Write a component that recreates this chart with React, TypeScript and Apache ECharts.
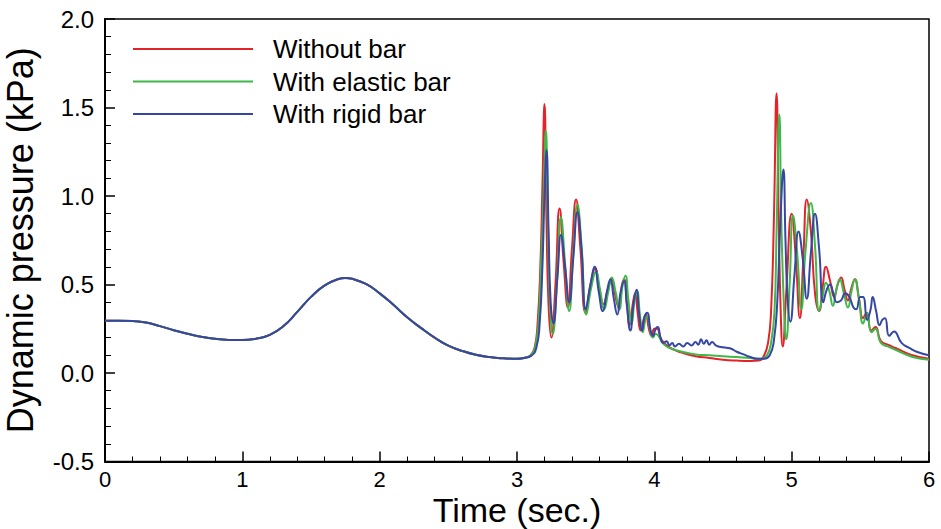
import React, { useEffect, useRef } from "react";
import * as echarts from "echarts";

// Shared initial response (all three cases coincide before the first surge)
const baseTime = [0, 0.1, 0.2, 0.3, 0.4, 0.5, 0.6, 0.7, 0.8, 0.9, 1.0, 1.1, 1.2, 1.3, 1.4, 1.5, 1.6, 1.7, 1.75, 1.8, 1.9, 2.0, 2.1, 2.2, 2.3, 2.4, 2.5, 2.6, 2.7, 2.8, 2.9, 3.0];
const basePressure = [0.295, 0.295, 0.294, 0.285, 0.265, 0.242, 0.222, 0.205, 0.193, 0.187, 0.186, 0.194, 0.215, 0.265, 0.345, 0.43, 0.495, 0.531, 0.537, 0.532, 0.503, 0.45, 0.385, 0.315, 0.255, 0.2, 0.155, 0.125, 0.103, 0.09, 0.083, 0.08];

// Without bar
const redTime = [3.05, 3.1, 3.13, 3.15, 3.17, 3.185, 3.2, 3.215, 3.23, 3.25, 3.28, 3.31, 3.34, 3.37, 3.4, 3.43, 3.46, 3.5, 3.535, 3.57, 3.6, 3.63, 3.66, 3.69, 3.715, 3.74, 3.765, 3.78, 3.8, 3.82, 3.845, 3.86, 3.88, 3.9, 3.925, 3.94, 3.96, 3.98, 4.0, 4.02, 4.05, 4.1, 4.15, 4.2, 4.3, 4.4, 4.5, 4.6, 4.7, 4.76, 4.8, 4.83, 4.85, 4.87, 4.89, 4.905, 4.92, 4.935, 4.96, 5.0, 5.03, 5.06, 5.085, 5.11, 5.14, 5.17, 5.2, 5.225, 5.25, 5.28, 5.31, 5.335, 5.36, 5.385, 5.41, 5.435, 5.46, 5.49, 5.52, 5.545, 5.58, 5.61, 5.65, 5.7, 5.76, 5.88, 6.0];
const redPressure = [0.085, 0.1, 0.15, 0.28, 0.6, 1.05, 1.52, 0.85, 0.38, 0.2, 0.5, 0.93, 0.62, 0.37, 0.7, 0.98, 0.72, 0.34, 0.5, 0.59, 0.47, 0.39, 0.47, 0.53, 0.44, 0.37, 0.5, 0.53, 0.4, 0.27, 0.4, 0.45, 0.33, 0.24, 0.31, 0.33, 0.25, 0.21, 0.25, 0.25, 0.19, 0.15, 0.13, 0.115, 0.095, 0.085, 0.075, 0.07, 0.068, 0.07, 0.1, 0.18, 0.35, 0.85, 1.58, 0.9, 0.35, 0.15, 0.45, 0.9, 0.65, 0.31, 0.65, 0.98, 0.8, 0.45, 0.35, 0.48, 0.6, 0.52, 0.43, 0.5, 0.54, 0.47, 0.41, 0.48, 0.53, 0.42, 0.31, 0.34, 0.24, 0.26, 0.18, 0.16, 0.14, 0.1, 0.08];

// With elastic bar
const greenTime = [3.05, 3.1, 3.13, 3.155, 3.175, 3.195, 3.21, 3.225, 3.24, 3.26, 3.29, 3.32, 3.35, 3.38, 3.41, 3.44, 3.47, 3.505, 3.54, 3.575, 3.605, 3.635, 3.665, 3.69, 3.72, 3.745, 3.77, 3.79, 3.81, 3.835, 3.855, 3.875, 3.895, 3.915, 3.935, 3.95, 3.97, 3.99, 4.01, 4.03, 4.06, 4.1, 4.2, 4.3, 4.4, 4.5, 4.6, 4.7, 4.78, 4.82, 4.85, 4.875, 4.89, 4.91, 4.925, 4.945, 4.96, 4.985, 5.01, 5.04, 5.07, 5.1, 5.14, 5.17, 5.2, 5.225, 5.25, 5.275, 5.3, 5.325, 5.35, 5.38, 5.41, 5.435, 5.46, 5.49, 5.52, 5.55, 5.58, 5.61, 5.65, 5.7, 5.76, 5.88, 6.0];
const greenPressure = [0.085, 0.1, 0.14, 0.27, 0.6, 1.05, 1.37, 0.85, 0.4, 0.22, 0.5, 0.88, 0.62, 0.35, 0.68, 0.95, 0.72, 0.33, 0.48, 0.57, 0.47, 0.36, 0.46, 0.54, 0.45, 0.36, 0.5, 0.55, 0.42, 0.28, 0.4, 0.46, 0.33, 0.23, 0.3, 0.32, 0.24, 0.2, 0.22, 0.21, 0.17, 0.145, 0.12, 0.105, 0.1, 0.095, 0.09, 0.085, 0.08, 0.1, 0.17, 0.35, 0.8, 1.46, 0.85, 0.35, 0.19, 0.5, 0.89, 0.68, 0.36, 0.68, 0.96, 0.72, 0.35, 0.43, 0.51, 0.46, 0.38, 0.47, 0.53, 0.45, 0.37, 0.46, 0.53, 0.42, 0.28, 0.34, 0.23, 0.25, 0.17, 0.15, 0.13, 0.09, 0.075];

// With rigid bar
const blueTime = [3.05, 3.1, 3.14, 3.165, 3.185, 3.2, 3.215, 3.23, 3.245, 3.265, 3.295, 3.32, 3.35, 3.38, 3.41, 3.44, 3.47, 3.5, 3.535, 3.565, 3.595, 3.625, 3.655, 3.68, 3.705, 3.73, 3.755, 3.78, 3.8, 3.825, 3.85, 3.87, 3.89, 3.91, 3.93, 3.95, 3.97, 3.99, 4.01, 4.025, 4.045, 4.065, 4.09, 4.11, 4.13, 4.15, 4.18, 4.21, 4.24, 4.27, 4.3, 4.32, 4.34, 4.36, 4.38, 4.4, 4.42, 4.45, 4.5, 4.55, 4.6, 4.65, 4.7, 4.75, 4.8, 4.84, 4.87, 4.895, 4.915, 4.94, 4.955, 4.97, 4.99, 5.02, 5.05, 5.08, 5.11, 5.14, 5.17, 5.2, 5.23, 5.255, 5.28, 5.3, 5.33, 5.36, 5.39, 5.42, 5.45, 5.47, 5.5, 5.52, 5.55, 5.575, 5.59, 5.615, 5.64, 5.66, 5.68, 5.71, 5.745, 5.8, 5.86, 5.91, 6.0];
const bluePressure = [0.085, 0.095, 0.14, 0.28, 0.6, 1.0, 1.26, 0.8, 0.4, 0.28, 0.55, 0.78, 0.6, 0.4, 0.65, 0.91, 0.7, 0.36, 0.5, 0.6, 0.46, 0.35, 0.46, 0.53, 0.42, 0.33, 0.46, 0.52, 0.38, 0.24, 0.4, 0.47, 0.33, 0.24, 0.32, 0.34, 0.25, 0.21, 0.25, 0.26, 0.2, 0.17, 0.18, 0.155, 0.17, 0.15, 0.165, 0.15, 0.17, 0.155, 0.175, 0.16, 0.19, 0.165, 0.185, 0.16, 0.175, 0.155, 0.145, 0.14, 0.12, 0.105, 0.09, 0.08, 0.08, 0.1, 0.18, 0.4, 0.8, 1.15, 0.75, 0.42, 0.29, 0.55, 0.8, 0.65, 0.42, 0.68, 0.9, 0.7, 0.4, 0.47, 0.5, 0.46, 0.4, 0.41, 0.45, 0.43, 0.37, 0.36, 0.43, 0.43, 0.3, 0.36, 0.43, 0.35, 0.27, 0.3, 0.31, 0.21, 0.235, 0.17, 0.14, 0.12, 0.1];

const seriesNames = ["Without bar", "With elastic bar", "With rigid bar"];
const seriesColors = ["#e3232a", "#3fb84a", "#3547a3"];

const xTicks = [0, 1, 2, 3, 4, 5, 6];
const yTickLabels = ["-0.5", "0.0", "0.5", "1.0", "1.5", "2.0"];

const toPairs = (t: number[], p: number[]) => t.map((v, i) => [v, p[i]]);
const withBase = (t: number[], p: number[]) => [...toPairs(baseTime, basePressure), ...toPairs(t, p)];

const FONT = "'Liberation Sans', Arial, Helvetica, sans-serif";

export default function App() {
  const ref = useRef<HTMLDivElement>(null);

  useEffect(() => {
    if (!ref.current) return;
    const chart = echarts.init(ref.current, undefined, { renderer: "svg" });
    const dataSets = [
      withBase(redTime, redPressure),
      withBase(greenTime, greenPressure),
      withBase(blueTime, bluePressure),
    ];
    chart.setOption({
      animation: false,
      backgroundColor: "#ffffff",
      textStyle: { fontFamily: FONT },
      grid: {
        left: 105,
        right: 12,
        top: 19,
        bottom: 67.5,
        outerBoundsMode: "none",
        containLabel: false,
        show: true,
        borderColor: "#000",
        borderWidth: 1.5,
        backgroundColor: "transparent",
      },
      legend: {
        orient: "vertical",
        left: 133,
        top: 33,
        padding: 0,
        itemGap: 0.5,
        itemWidth: 120,
        itemHeight: 2,
        icon: "rect",
        data: seriesNames,
        textStyle: {
          fontFamily: FONT,
          fontSize: 26,
          color: "#000",
          lineHeight: 32,
          padding: [0, 0, 0, 15],
        },
      },
      xAxis: {
        type: "value",
        min: xTicks[0],
        max: xTicks[xTicks.length - 1],
        interval: 1,
        name: "Time (sec.)",
        nameLocation: "middle",
        nameGap: 31,
        nameMoveOverlap: false,
        nameTextStyle: { fontFamily: FONT, fontSize: 34, color: "#000", lineHeight: 34 },
        axisLine: { show: true, onZero: false, lineStyle: { color: "#000", width: 2 } },
        axisTick: { show: true, inside: true, length: 10, lineStyle: { color: "#000", width: 1.5 } },
        minorTick: { show: true, splitNumber: 5, length: 5, lineStyle: { color: "#000", width: 1 } },
        axisLabel: { fontFamily: FONT, fontSize: 22, color: "#000", margin: 9, lineHeight: 17 },
        splitLine: { show: false },
      },
      yAxis: {
        type: "value",
        min: -0.5,
        max: 2.0,
        interval: 0.5,
        name: "Dynamic pressure (kPa)",
        nameLocation: "middle",
        nameGap: 68,
        nameMoveOverlap: false,
        nameTextStyle: { fontFamily: FONT, fontSize: 36, color: "#000", lineHeight: 34 },
        axisLine: { show: true, onZero: false, lineStyle: { color: "#000", width: 2 } },
        axisTick: { show: true, inside: true, length: 10, lineStyle: { color: "#000", width: 1.5 } },
        minorTick: { show: true, splitNumber: 5, length: 6, lineStyle: { color: "#000", width: 1 } },
        axisLabel: {
          fontFamily: FONT,
          fontSize: 24,
          color: "#000",
          margin: 11,
          formatter: (v: number) => {
            const s = v.toFixed(1);
            return yTickLabels.includes(s) ? s : "";
          },
        },
        splitLine: { show: false },
      },
      series: dataSets.map((data, i) => ({
        name: seriesNames[i],
        type: "line",
        data,
        showSymbol: false,
        symbol: "none",
        smooth: 0.5,
        color: seriesColors[i],
        lineStyle: { color: seriesColors[i], width: 2 },
        z: 2 + i,
      })),
    });
    return () => chart.dispose();
  }, []);

  return <div ref={ref} style={{ width: 941, height: 529, position: "absolute", left: 0, top: 0 }} />;
}
